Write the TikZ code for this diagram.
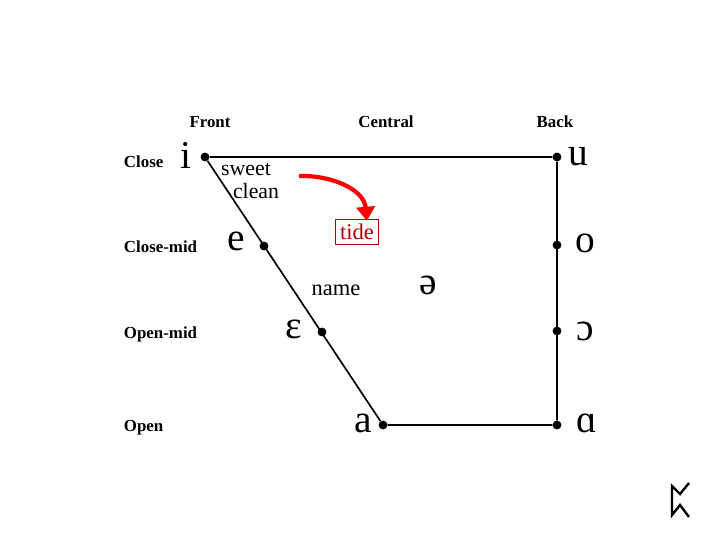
\documentclass[tikz,border=0pt]{standalone}
\usepackage{fontspec}
\setmainfont{Liberation Serif}
\usetikzlibrary{arrows.meta}
\begin{document}
\begin{tikzpicture}[x=0.025cm,y=-0.025cm,
        edge/.style={black, line width=1.2pt},
        dot/.style={circle, fill=black, inner sep=0pt, minimum size=6.3pt},
        vowel/.style={font=\fontsize{28}{28}\selectfont},
        axis/.style={font=\fontsize{12}{12}\selectfont\bfseries},
        word/.style={font=\fontsize{16}{16}\selectfont, inner sep=0pt}]
    \useasboundingbox (0,0) rectangle (720,540);

    % Column and row labels.
    \node[axis] (front)   at (210,122) {Front};
    \node[axis] (central) at (386,122) {Central};
    \node[axis] (back)    at (555,122) {Back};
    \node[axis, anchor=west] (close)     at (119,162) {Close};
    \node[axis, anchor=west] (closemid)  at (119,247) {Close-mid};
    \node[axis, anchor=west] (openmid)   at (119,334) {Open-mid};
    \node[axis, anchor=west] (open)      at (119,428) {Open};

    % The corners and points of the chart.
    \node[dot] (i) at (205,157) {};
    \node[dot] (e) at (264,246) {};
    \node[dot] (E) at (322,332) {};
    \node[dot] (a) at (383,425) {};
    \node[dot] (u) at (557,157) {};
    \node[dot] (o) at (557,245) {};
    \node[dot] (O) at (557,331) {};
    \node[dot] (A) at (557,425) {};

    \draw[edge] (i) -- (u) -- (A) -- (a) -- (i);

    % The vowel symbols.
    \node[vowel] (i sym) at (186,155) {i};
    \node[vowel] (e sym) at (236,241) {e};
    \node[vowel] (E sym) at (294,329) {ɛ};
    \node[vowel] (a sym) at (363,423) {a};
    \node[vowel] (u sym) at (578,157) {u};
    \node[vowel] (o sym) at (585,243) {o};
    \node[vowel] (O sym) at (585,331) {ɔ};
    \node[vowel] (A sym) at (587,423) {ɑ};
    \node[vowel] (schwa) at (428,285) {ə};

    % The words.
    \node[word, font=\fontsize{15.5}{15.5}\selectfont] (sweet) at (246,169) {sweet};
    \node[word, font=\fontsize{15.5}{15.5}\selectfont] (clean) at (256,191) {clean};
    \node[word] (name)  at (336,290) {name};
    \node[word, draw=red!70!black, text=red!70!black, line width=0.6pt,
          inner sep=3pt] (tide) at (357,232) {tide};
    \coordinate (glide) at (299,176);
    \draw[red, line width=3pt, -{Triangle[length=10pt,width=13pt]}]
        (glide) to[out=2, in=95] ([xshift=7pt,yshift=-1pt]tide.north);

    % The rune in the corner.
    \draw[line width=1.7pt] (689,483) -- (680,494) -- (672,486) -- (672,515)
        -- (680,505) -- (689,517);
\end{tikzpicture}
\end{document}
